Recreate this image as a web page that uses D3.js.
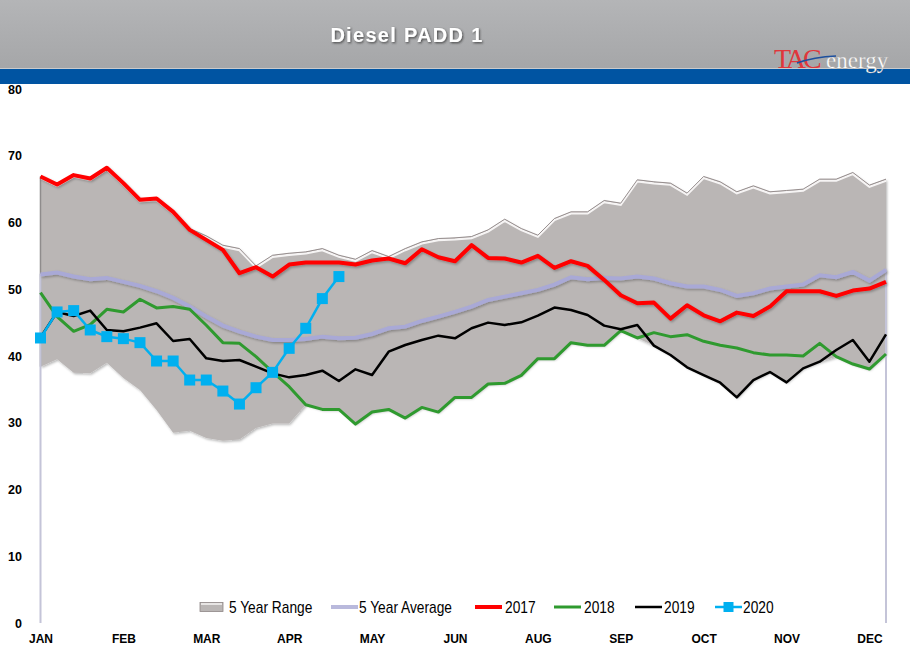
<!DOCTYPE html>
<html><head><meta charset="utf-8">
<script src="https://cdn.jsdelivr.net/npm/d3@7"></script>
<style>body{margin:0;background:#fff;} svg{display:block}</style>
</head><body><svg id="c" width="910" height="661"></svg>
<script>
// ---- data ----
const monthLabels = ["JAN","FEB","MAR","APR","MAY","JUN","AUG","SEP","OCT","NOV","DEC"];
const monthTickWeeks = [0,5,10,15,20,25,30,35,40,45,50];
const yTicks = [0,10,20,30,40,50,60,70,80];
const weeks = d3.range(52);
const rangeUpper = [66.9,65.7,67.1,66.6,68.2,65.9,63.4,63.6,61.6,59.1,58.0,56.6,56.1,53.5,55.1,55.4,55.6,56.1,55.1,54.5,55.8,54.9,56.1,57.1,57.6,57.7,57.9,58.9,60.5,59.1,58.1,60.6,61.6,61.6,63.3,62.9,66.4,66.1,65.9,64.4,66.9,66.1,64.6,65.5,64.6,64.8,65.0,66.5,66.5,67.5,65.6,66.5];
const rangeLower = [38.4,39.5,37.5,37.4,39.0,36.7,34.9,31.9,28.5,28.8,27.7,27.3,27.5,29.2,29.9,29.9,32.7,32.0,32.0,29.8,31.6,32.0,30.7,32.3,31.6,33.8,33.8,35.8,35.9,37.1,39.6,39.6,42.0,41.6,41.6,43.8,42.7,41.55,40.15,38.3,37.15,36.0,33.8,36.4,37.6,36.05,38.15,39.15,39.9,38.8,38.05,40.3];
const avg5 = [52.2,52.5,51.9,51.5,51.7,51.1,50.5,49.7,48.7,47.4,45.9,44.55,43.65,42.9,42.4,42.4,42.55,42.9,42.65,42.75,43.3,44.15,44.4,45.25,45.9,46.6,47.4,48.4,48.9,49.4,49.9,50.7,51.8,51.5,51.7,51.6,51.9,51.6,50.9,50.4,50.4,49.9,49.0,49.4,50.1,50.4,50.7,52.1,51.8,52.6,51.3,52.9];
const y2017 = [66.9,65.7,67.1,66.6,68.2,65.9,63.4,63.6,61.6,58.9,57.4,55.9,52.4,53.3,51.9,53.7,54.0,54.0,54.0,53.7,54.3,54.6,53.9,56.0,54.8,54.2,56.6,54.7,54.6,54.0,55.0,53.2,54.2,53.5,51.4,49.1,47.9,48.0,45.6,47.6,46.1,45.2,46.5,46.0,47.4,49.7,49.7,49.7,49.0,49.8,50.1,51.1];
const y2018 = [49.5,45.9,43.7,44.7,47.0,46.6,48.5,47.2,47.4,47.0,44.6,42.0,41.9,39.9,37.6,35.4,32.7,32.0,32.0,29.8,31.6,32.0,30.7,32.3,31.6,33.8,33.8,35.8,35.9,37.1,39.6,39.6,42.0,41.6,41.6,43.8,42.7,43.5,42.9,43.2,42.2,41.6,41.2,40.5,40.15,40.15,40.0,41.9,39.9,38.8,38.05,40.3];
const y2019 = [42.8,46.6,46.0,46.8,43.9,43.7,44.25,44.9,42.25,42.55,39.65,39.25,39.4,38.4,37.4,36.8,37.15,37.8,36.25,38.0,37.15,40.65,41.65,42.4,43.05,42.65,44.15,45.0,44.65,45.05,46.05,47.25,46.9,46.15,44.55,44.0,44.65,41.55,40.15,38.3,37.15,36.0,33.8,36.4,37.6,36.05,38.15,39.15,40.9,42.4,39.15,43.25];
const y2020 = [42.7,46.6,46.8,43.9,42.9,42.6,42.0,39.25,39.25,36.4,36.4,34.75,32.8,35.25,37.55,41.15,44.15,48.6,51.9];

const svg = d3.select("#c");
const defs = svg.append("defs");
const hg = defs.append("linearGradient").attr("id","hg").attr("x1",0).attr("y1",0).attr("x2",0).attr("y2",1);
hg.append("stop").attr("offset","0").attr("stop-color","#b4b5b7");
hg.append("stop").attr("offset","1").attr("stop-color","#a5a6a8");
const sh = defs.append("filter").attr("id","sh").attr("x","-5%").attr("y","-5%").attr("width","110%").attr("height","120%");
sh.append("feDropShadow").attr("dx",1.2).attr("dy",1.5).attr("stdDeviation",1).attr("flood-color","#000").attr("flood-opacity",0.28);
const tsh = defs.append("filter").attr("id","tsh");
tsh.append("feDropShadow").attr("dx",1).attr("dy",1.2).attr("stdDeviation",0.8).attr("flood-color","#333").attr("flood-opacity",0.8);

// header
svg.append("rect").attr("x",0).attr("y",0).attr("width",910).attr("height",69).attr("fill","url(#hg)");
svg.append("rect").attr("x",0).attr("y",69).attr("width",910).attr("height",15).attr("fill","#0054a2");
svg.append("line").attr("x1",0).attr("x2",910).attr("y1",68.5).attr("y2",68.5).attr("stroke","#c9cacc").attr("stroke-width",1);
svg.append("text").attr("x",407).attr("y",42).attr("text-anchor","middle")
  .attr("font-family","'Liberation Sans', Arial, sans-serif").attr("font-weight","bold").attr("font-size",20)
  .attr("letter-spacing",1.3).attr("fill","#fff").attr("filter","url(#tsh)").text("Diesel PADD 1");
// logo
svg.append("text").attr("x",774).attr("y",68).attr("font-family","'Liberation Serif', 'Times New Roman', serif")
  .attr("font-size",28).attr("letter-spacing",-3).attr("fill","#e0363b").text("TAC");
svg.append("text").attr("x",826).attr("y",68).attr("font-family","'Liberation Serif', 'Times New Roman', serif")
  .attr("font-size",23).attr("fill","#ffffff").attr("stroke","#8a8a8a").attr("stroke-width",0.25).text("energy");
svg.append("path").attr("d","M797,63 Q814,57 836,56").attr("fill","none").attr("stroke","#1d4f9e").attr("stroke-width",1.6);

// scales
const x = d3.scaleLinear().domain([0,51]).range([40.5,886]);
const y = d3.scaleLinear().domain([0,80]).range([623,89]);

// y axis
const ya = svg.append("g").attr("transform","translate(22,0)")
  .call(d3.axisLeft(y).tickValues(yTicks).tickSize(0).tickPadding(0).tickFormat(d3.format("d")));
ya.select(".domain").remove();
ya.selectAll("text").attr("font-family","'Liberation Sans', Arial, sans-serif").attr("font-weight","bold")
  .attr("font-size",12.5).attr("fill","#000");
// x axis
const xa = svg.append("g").attr("transform","translate(0,623)")
  .call(d3.axisBottom(x).tickValues(monthTickWeeks).tickSize(0).tickPadding(11.5).tickFormat((d,i)=>monthLabels[i]));
xa.select(".domain").remove();
xa.selectAll("text").attr("font-family","'Liberation Sans', Arial, sans-serif").attr("font-weight","bold")
  .attr("font-size",12).attr("fill","#000");

// 5 year range
const area = d3.area().x((d,i)=>x(i)).y0((d,i)=>y(rangeLower[i])).y1((d,i)=>y(rangeUpper[i]));
svg.append("path").datum(weeks).attr("d",area).attr("fill","#bab6b5").attr("filter","url(#sh)");
const upLine = d3.line().x((d,i)=>x(i)).y(d=>y(d));
svg.append("path").datum(rangeUpper).attr("d",upLine).attr("fill","none").attr("stroke","#f6f4f4").attr("stroke-width",2.2).attr("transform","translate(0,1.6)");
svg.append("path").datum(rangeUpper).attr("d",upLine).attr("fill","none").attr("stroke","#8e8686").attr("stroke-width",0.9);
svg.append("line").attr("x1",x(0)).attr("x2",x(0)).attr("y1",y(rangeUpper[0])).attr("y2",y(rangeLower[0])).attr("stroke","#8f8c8c").attr("stroke-width",1.5);

// 5 year average (drawn as outline down to zero)
const avgOutline = [[0,0]].concat(avg5.map((v,i)=>[i,v])).concat([[51,0]]);
svg.append("path").datum(avgOutline).attr("d",d3.line().x(d=>x(d[0])).y(d=>y(d[1])))
  .attr("fill","none").attr("stroke","#c4c4d8").attr("stroke-width",2);
svg.append("path").datum(avg5).attr("d",upLine).attr("fill","none").attr("stroke","#a9a9d6").attr("stroke-width",4).attr("filter","url(#sh)");

// years
svg.append("path").datum(y2017).attr("d",upLine).attr("fill","none").attr("stroke","#ff0000").attr("stroke-width",4).attr("stroke-linejoin","round").attr("filter","url(#sh)");
svg.append("path").datum(y2018).attr("d",upLine).attr("fill","none").attr("stroke","#2f9a2f").attr("stroke-width",3).attr("stroke-linejoin","round");
svg.append("path").datum(y2019).attr("d",upLine).attr("fill","none").attr("stroke","#000").attr("stroke-width",2.5).attr("stroke-linejoin","round");
svg.append("path").datum(y2020).attr("d",upLine).attr("fill","none").attr("stroke","#00b0f0").attr("stroke-width",2.5).attr("stroke-linejoin","round");
svg.append("g").selectAll("rect").data(y2020).join("rect")
  .attr("x",(d,i)=>x(i)-5.5).attr("y",d=>y(d)-5.5).attr("width",11).attr("height",11).attr("fill","#00b0f0");

// legend
const lf = "'Liberation Sans', Arial, sans-serif";
const leg = svg.append("g");
const ly = 607;
const items = [
  {t:"5 Year Range", sx:200, tx:229, type:"range"},
  {t:"5 Year Average", sx:331, tx:359, type:"line", c:"#b9b9dc", w:4},
  {t:"2017", sx:475, tx:505, type:"line", c:"#ff0000", w:4},
  {t:"2018", sx:554, tx:584, type:"line", c:"#2f9a2f", w:3},
  {t:"2019", sx:635, tx:664, type:"line", c:"#000", w:2.5},
  {t:"2020", sx:715, tx:743, type:"marker", c:"#00b0f0", w:2.5}
];
items.forEach(it=>{
  if(it.type==="range"){
    leg.append("rect").attr("x",it.sx).attr("y",ly-4.5).attr("width",23).attr("height",9).attr("fill","#bab6b5").attr("stroke","#8e8686").attr("stroke-width",0.8);
    leg.append("line").attr("x1",it.sx+1).attr("x2",it.sx+22).attr("y1",ly-3).attr("y2",ly-3).attr("stroke","#f6f4f4").attr("stroke-width",1.5);
  } else {
    leg.append("line").attr("x1",it.sx).attr("x2",it.sx+27).attr("y1",ly).attr("y2",ly).attr("stroke",it.c).attr("stroke-width",it.w);
    if(it.type==="marker") leg.append("rect").attr("x",it.sx+8.5).attr("y",ly-5).attr("width",10).attr("height",10).attr("fill",it.c);
  }
  leg.append("text").attr("transform",`translate(${it.tx},${ly+5.5}) scale(0.86,1)`)
    .attr("font-family",lf).attr("font-size",16).attr("fill","#000").text(it.t);
});
</script></body></html>
